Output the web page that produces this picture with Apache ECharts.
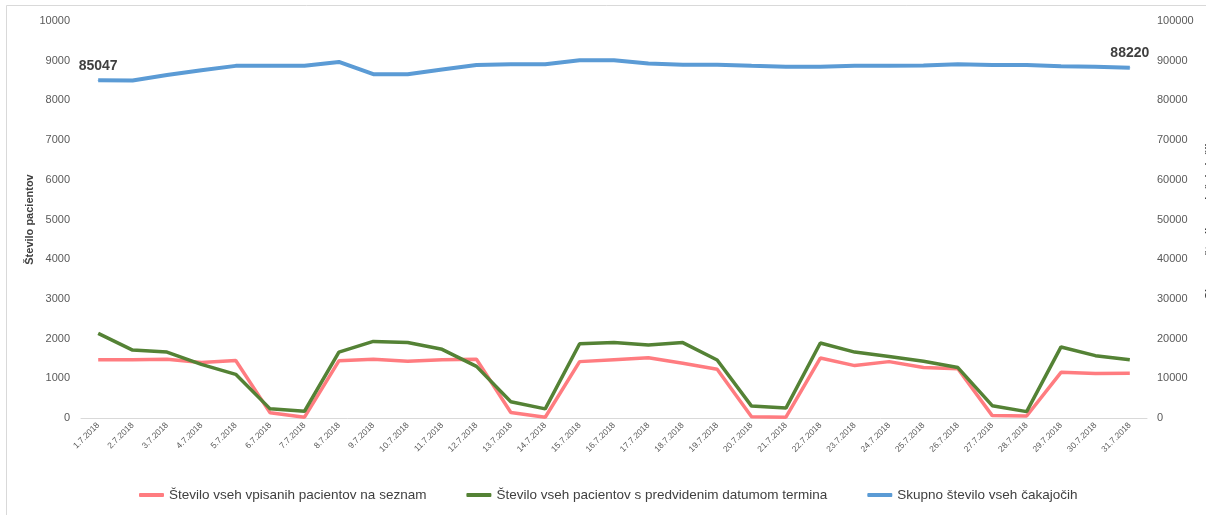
<!DOCTYPE html>
<html>
<head>
<meta charset="utf-8">
<script src="https://cdn.jsdelivr.net/npm/echarts@6/dist/echarts.min.js"></script>
<style>
  html, body { margin: 0; padding: 0; background: #fff; }
  #chart { width: 1206px; height: 515px; }
</style>
</head>
<body>
<div id="chart"></div>
<script>
// dnevi v juliju 2018
var dates = [];
var days = ['1','2','3','4','5','6','7','8','9','10','11','12','13','14','15','16','17','18','19','20','21','22','23','24','25','26','27','28','29','30','31'];
for (var i = 0; i < days.length; i++) {
    dates.push(days[i] + '.7.2018');
}

// Število vseh vpisanih pacientov na seznam
var vpisani = [1470, 1470, 1480, 1400, 1450, 130, 20, 1440, 1480, 1430, 1470, 1480, 140, 20, 1420, 1470, 1520, 1380, 1230, 30, 20, 1510, 1320, 1420, 1270, 1240, 60, 50, 1150, 1120, 1130];
// Število vseh pacientov s predvidenim datumom termina
var predvideni = [2130, 1710, 1660, 1350, 1100, 230, 170, 1660, 1930, 1900, 1730, 1300, 410, 230, 1870, 1900, 1840, 1900, 1460, 300, 250, 1890, 1660, 1550, 1430, 1270, 310, 160, 1790, 1570, 1470];
// Skupno število vseh čakajočih
var skupno = [85047, 85000, 86400, 87600, 88700, 88700, 88700, 89700, 86600, 86600, 87800, 88900, 89100, 89100, 90100, 90100, 89300, 89000, 89000, 88700, 88500, 88500, 88700, 88700, 88800, 89100, 88900, 88900, 88600, 88500, 88220];

var leftTicks = [0, 10000, 1000];
var rightTicks = [0, 100000, 10000];

var fontFam = '"Liberation Sans", Arial, sans-serif';

var chart = echarts.init(document.getElementById('chart'));

var option = {
    backgroundColor: '#fff',
    animation: false,
    graphic: [{
        type: 'line',
        shape: { x1: 6.5, y1: 5.5, x2: 1206, y2: 5.5 },
        style: { stroke: '#d9d9d9', lineWidth: 1 }
    }, {
        type: 'line',
        shape: { x1: 6.5, y1: 5.5, x2: 6.5, y2: 515 },
        style: { stroke: '#d9d9d9', lineWidth: 1 }
    }],
    grid: {
        left: 81,
        right: 59,
        top: 21,
        bottom: 97,
        outerBoundsMode: 'none'
    },
    legend: {
        bottom: 8,
        left: 134,
        itemGap: 40,
        itemWidth: 25,
        itemHeight: 4,
        icon: 'roundRect',
        textStyle: {
            fontFamily: fontFam,
            fontSize: 13.5,
            color: '#404040'
        },
        data: ['Število vseh vpisanih pacientov na seznam', 'Število vseh pacientov s predvidenim datumom termina', 'Skupno število vseh čakajočih']
    },
    xAxis: {
        type: 'category',
        data: dates,
        boundaryGap: true,
        axisLine: { lineStyle: { color: '#d9d9d9', width: 1 } },
        axisTick: { show: false },
        axisLabel: {
            rotate: 45,
            interval: 0,
            fontFamily: fontFam,
            fontSize: 8.5,
            color: '#595959',
            margin: 6
        }
    },
    yAxis: [{
        type: 'value',
        min: leftTicks[0],
        max: leftTicks[1],
        interval: leftTicks[2],
        name: 'Število pacientov',
        nameLocation: 'middle',
        nameRotate: 90,
        nameGap: 46,
        nameMoveOverlap: false,
        nameTextStyle: {
            fontFamily: fontFam,
            fontSize: 11,
            fontWeight: 'bold',
            color: '#404040'
        },
        axisLine: { show: false },
        axisTick: { show: false },
        splitLine: { show: false },
        axisLabel: {
            fontFamily: fontFam,
            fontSize: 11,
            color: '#595959',
            margin: 11,
            formatter: function(v) { return String(v); }
        }
    }, {
        type: 'value',
        position: 'right',
        min: rightTicks[0],
        max: rightTicks[1],
        interval: rightTicks[2],
        name: 'Skupno število vseh čakajočih',
        nameLocation: 'middle',
        nameRotate: 90,
        nameGap: 57,
        nameMoveOverlap: false,
        nameTextStyle: {
            fontFamily: fontFam,
            fontSize: 11,
            fontWeight: 'bold',
            color: '#404040'
        },
        axisLine: { show: false },
        axisTick: { show: false },
        splitLine: { show: false },
        axisLabel: {
            fontFamily: fontFam,
            fontSize: 11,
            color: '#595959',
            margin: 10,
            formatter: function(v) { return String(v); }
        }
    }],
    series: [{
        name: 'Število vseh vpisanih pacientov na seznam',
        type: 'line',
        yAxisIndex: 0,
        data: vpisani,
        symbol: 'none',
        color: '#FF7C80',
        lineStyle: { width: 3.5, color: '#FF7C80' }
    }, {
        name: 'Število vseh pacientov s predvidenim datumom termina',
        type: 'line',
        yAxisIndex: 0,
        data: predvideni,
        symbol: 'none',
        color: '#548235',
        lineStyle: { width: 3.5, color: '#548235' }
    }, {
        name: 'Skupno število vseh čakajočih',
        type: 'line',
        yAxisIndex: 1,
        data: skupno,
        symbol: 'circle',
        symbolSize: 1,
        showSymbol: true,
        showAllSymbol: true,
        color: '#5B9BD5',
        itemStyle: { color: '#5B9BD5' },
        lineStyle: { width: 4, color: '#5B9BD5' },
        label: {
            show: true,
            position: 'top',
            distance: 7,
            fontFamily: fontFam,
            fontSize: 14,
            fontWeight: 'bold',
            color: '#404040',
            formatter: function(p) {
                // samo prvi in zadnji dan
                if (p.dataIndex === 0 || p.dataIndex === skupno.length - 1) {
                    return String(p.value);
                }
                return '';
            }
        }
    }]
};

chart.setOption(option);
</script>
</body>
</html>
